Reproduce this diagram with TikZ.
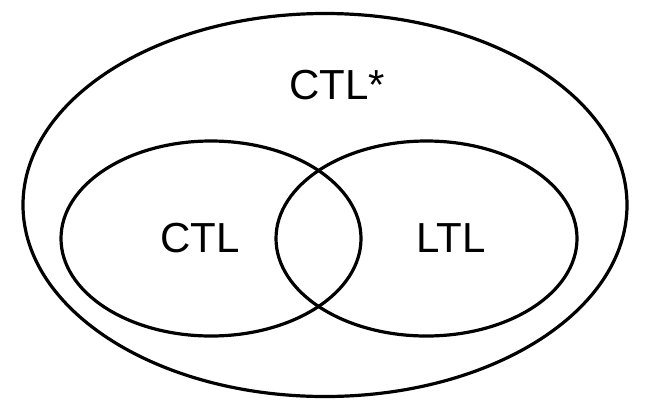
\documentclass[tikz,border=0pt]{standalone}
\usepackage{fontspec}
\setmainfont{Liberation Sans}

\begin{document}
\begin{tikzpicture}[
    x=1pt, y=-1pt,
    set/.style={draw, line width=3.2pt},
    setlabel/.style={inner sep=0pt, font=\fontsize{42}{50}\selectfont}
]
    \useasboundingbox (0,0) rectangle (647,405);

    \draw[set] (325,205) ellipse [x radius=302, y radius=191.5];
    \draw[set] (211,238.5) ellipse [x radius=150, y radius=97.5];
    \draw[set] (426.5,238.5) ellipse [x radius=150.5, y radius=97.5];

    \node[setlabel] (star) at (337,85) {CTL*};
    \node[setlabel] (ctl) at (200,238) {CTL};
    \node[setlabel] (ltl) at (451,238) {LTL};

\end{tikzpicture}
\end{document}
